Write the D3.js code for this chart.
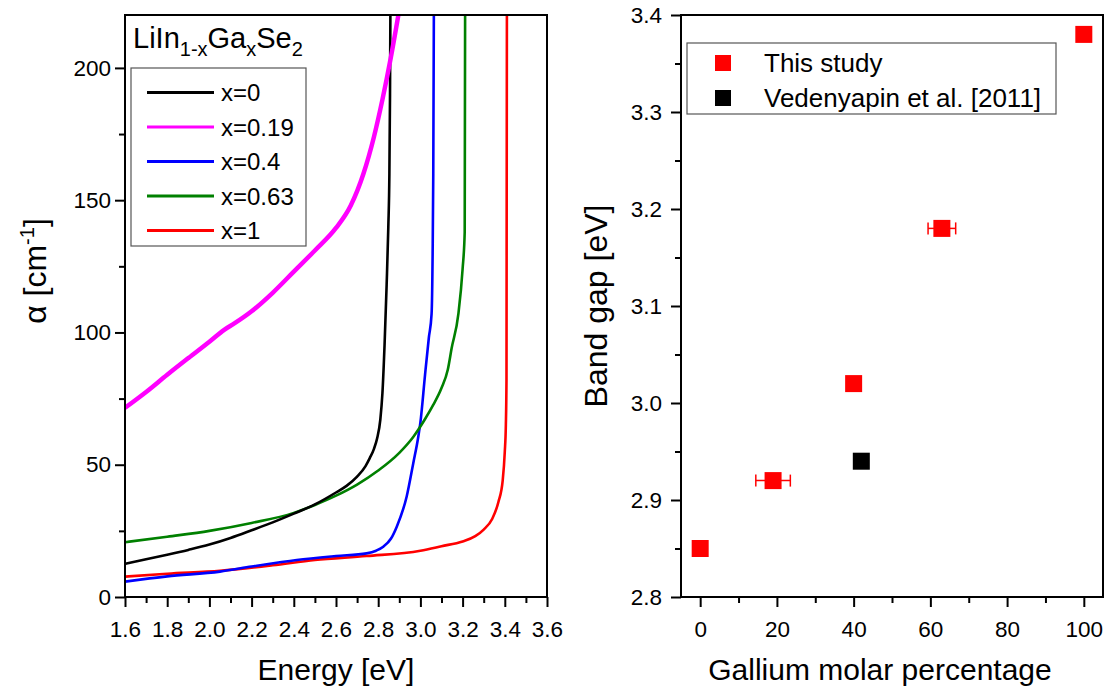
<!DOCTYPE html>
<html>
<head>
<meta charset="utf-8">
<script src="https://d3js.org/d3.v7.min.js"></script>
<style>
  body { margin: 0; background: #fff; }
  svg { font-family: Arial, "Liberation Sans", sans-serif; }
</style>
</head>
<body>
<script>
'use strict';

// ---- data ----
// left panel: absorption coefficient vs energy
const seriesNames = ['x=0', 'x=0.19', 'x=0.4', 'x=0.63', 'x=1'];
const seriesColors = ['#000000', '#ff00ff', '#0000ff', '#008000', '#ff0000'];

const energyX0 = [1.6, 1.7, 1.8, 1.9, 2.0, 2.1, 2.2, 2.3, 2.4, 2.5, 2.6, 2.65, 2.7, 2.74, 2.76, 2.78, 2.795, 2.81, 2.82, 2.83, 2.84, 2.848, 2.853, 2.856, 2.858];
const alphaX0  = [12.5, 14.3, 16, 17.8, 19.8, 22.3, 25.2, 28.2, 31.5, 35, 39.5, 42, 45.5, 49.5, 52.5, 56, 60, 67, 77, 95, 118, 140, 160, 190, 225];

const energyX019 = [1.6, 1.7, 1.8, 1.9, 2.0, 2.07, 2.12, 2.2, 2.3, 2.4, 2.5, 2.6, 2.67, 2.73, 2.78, 2.82, 2.86, 2.9];
const alphaX019  = [71.5, 77.5, 84, 90.3, 96.5, 101, 103.5, 108, 115, 123, 131, 139.5, 148, 160, 174, 188, 204, 222];

const energyX04 = [1.6, 1.8, 2.05, 2.2, 2.414, 2.6, 2.745, 2.79, 2.824, 2.86, 2.888, 2.935, 2.966, 2.99, 3.0, 3.022, 3.04, 3.053, 3.058, 3.061, 3.064];
const alphaX04  = [5.8, 7.8, 9.6, 11.5, 14, 15.5, 16.5, 17.5, 19, 22, 26.6, 38, 50.5, 60.6, 66, 84, 98, 107, 130, 160, 225];

const energyX063 = [1.6, 1.8, 2.0, 2.2, 2.4, 2.5, 2.6, 2.7, 2.8, 2.9, 2.966, 3.02, 3.06, 3.1, 3.13, 3.148, 3.18, 3.2, 3.21, 3.212];
const alphaX063  = [20.7, 22.8, 25, 28, 31.8, 34.8, 38.3, 42.5, 47.8, 54.5, 60.5, 67, 72.5, 79, 86, 94, 107, 124, 138, 225];

const energyX1 = [1.6, 1.8, 2.05, 2.3, 2.5, 2.745, 3.0, 3.1, 3.2, 3.26, 3.3, 3.34, 3.37, 3.39, 3.4, 3.405, 3.408, 3.41];
const alphaX1  = [7.7, 8.8, 9.9, 12, 14, 15.5, 17.5, 19.2, 21, 23, 25.5, 29.5, 36, 44, 55, 65, 82, 225];

const energyTicks = [1.6, 1.8, 2.0, 2.2, 2.4, 2.6, 2.8, 3.0, 3.2, 3.4, 3.6];
const alphaTicks = [0, 50, 100, 150, 200];

// right panel: band gap vs Ga content
const gaThis = [0, 19, 40, 63, 100];
const gapThis = [2.85, 2.92, 3.02, 3.18, 3.38];
const gaErrThis = [0, 4.5, 0, 3.6, 0];
const gaVed = [42];
const gapVed = [2.94];
const legendRight = ['This study', 'Vedenyapin et al. [2011]'];
const gaTicks = [0, 20, 40, 60, 80, 100];
const gapTicks = [2.8, 2.9, 3.0, 3.1, 3.2, 3.3, 3.4];

(function() {

  let svgContainer = '';

  window.onload = function() {
    svgContainer = d3.select('body')
      .append('svg')
      .attr('width', 1109)
      .attr('height', 689);

    makeLeftPanel();
    makeRightPanel();
  };

  // outward ticks, majors with labels, minors without
  function drawAxis(g, scale, orient, majors, minors, fmt, pad) {
    let axis = orient == 'bottom' ? d3.axisBottom(scale) : d3.axisLeft(scale);
    g.append('g')
      .call(axis.tickValues(minors).tickSize(6).tickFormat(''))
      .call(s => s.select('.domain').remove())
      .call(s => s.selectAll('line').attr('stroke-width', 2));

    let axis2 = orient == 'bottom' ? d3.axisBottom(scale) : d3.axisLeft(scale);
    g.append('g')
      .call(axis2.tickValues(majors).tickSize(10).tickPadding(pad).tickFormat(fmt))
      .call(s => s.select('.domain').remove())
      .call(s => s.selectAll('line').attr('stroke-width', 2))
      .call(s => s.selectAll('text')
        .attr('fill', '#000')
        .style('font-size', '22.5px'));
  }

  function makeLeftPanel() {
    let left = 125, right = 547, top = 15, bottom = 597;

    let xScale = d3.scaleLinear().domain([1.6, 3.6]).range([left, right]);
    let yScale = d3.scaleLinear().domain([0, 220]).range([bottom, top]);

    // x axis
    let minorE = d3.range(17, 36, 2).map(d => d / 10);
    let gx = svgContainer.append('g').attr('transform', `translate(0, ${bottom})`);
    drawAxis(gx, xScale, 'bottom', energyTicks, minorE, d3.format('.1f'), 14);

    // y axis
    let gy = svgContainer.append('g').attr('transform', `translate(${left}, 0)`);
    drawAxis(gy, yScale, 'left', alphaTicks, [25, 75, 125, 175], d3.format('d'), 4);

    // clip so the steep edges stop at the frame
    svgContainer.append('clipPath').attr('id', 'clipLeft')
      .append('rect')
      .attr('x', left).attr('y', top)
      .attr('width', right - left).attr('height', bottom - top);

    let lineGen = d3.line()
      .x(d => xScale(d[0]))
      .y(d => yScale(d[1]))
      .curve(d3.curveMonotoneX);

    let series = [
      d3.zip(energyX0, alphaX0),
      d3.zip(energyX019, alphaX019),
      d3.zip(energyX04, alphaX04),
      d3.zip(energyX063, alphaX063),
      d3.zip(energyX1, alphaX1)
    ];

    // draw x=1 first, magenta last as in the picture
    let order = [4, 2, 3, 0, 1];
    svgContainer.append('g')
      .attr('clip-path', 'url(#clipLeft)')
      .selectAll('path')
      .data(order)
      .enter()
      .append('path')
        .attr('d', i => lineGen(series[i]))
        .attr('fill', 'none')
        .attr('stroke', i => seriesColors[i])
        .attr('stroke-width', i => i == 1 ? 4.5 : 2.6)
        .attr('stroke-linejoin', 'round');

    // frame
    svgContainer.append('rect')
      .attr('x', left).attr('y', top)
      .attr('width', right - left).attr('height', bottom - top)
      .attr('fill', 'none').attr('stroke', '#000').attr('stroke-width', 2);

    // legend title
    let title = svgContainer.append('text')
      .attr('x', 133).attr('y', 48)
      .style('font-size', '29px');
    title.append('tspan').text('LiIn');
    title.append('tspan').text('1-x').attr('dy', 8).style('font-size', '20px');
    title.append('tspan').text('Ga').attr('dy', -8);
    title.append('tspan').text('x').attr('dy', 8).style('font-size', '20px');
    title.append('tspan').text('Se').attr('dy', -8);
    title.append('tspan').text('2').attr('dy', 8).style('font-size', '20px');

    // legend box
    svgContainer.append('rect')
      .attr('x', 131).attr('y', 68)
      .attr('width', 175).attr('height', 178)
      .attr('fill', '#fff').attr('stroke', '#555').attr('stroke-width', 1.2);

    let legend = svgContainer.selectAll('.legLeft')
      .data(seriesNames)
      .enter()
      .append('g')
        .attr('class', 'legLeft')
        .attr('transform', (d, i) => `translate(0, ${92.5 + i * 34.5})`);

    legend.append('line')
      .attr('x1', 147).attr('x2', 214)
      .attr('stroke', (d, i) => seriesColors[i])
      .attr('stroke-width', 3);

    legend.append('text')
      .attr('x', 221).attr('y', 8.5)
      .style('font-size', '24px')
      .text(d => d);

    // axis titles
    svgContainer.append('text')
      .attr('x', (left + right) / 2).attr('y', 680)
      .attr('text-anchor', 'middle')
      .style('font-size', '30px')
      .text('Energy [eV]');

    let ylab = svgContainer.append('text')
      .attr('transform', 'translate(46, 271)rotate(-90)')
      .attr('text-anchor', 'middle')
      .style('font-size', '32px');
    ylab.append('tspan').text('α [cm');
    ylab.append('tspan').text('-1').attr('dy', -12).style('font-size', '20px');
    ylab.append('tspan').text(']').attr('dy', 12);
  }

  function makeRightPanel() {
    let left = 681, right = 1103, top = 15, bottom = 597;

    let xScale = d3.scaleLinear().domain([-5, 105]).range([left, right]);
    let yScale = d3.scaleLinear().domain([2.8, 3.4]).range([bottom, top]);

    let gx = svgContainer.append('g').attr('transform', `translate(0, ${bottom})`);
    drawAxis(gx, xScale, 'bottom', gaTicks, [10, 30, 50, 70, 90], d3.format('d'), 14);

    let gy = svgContainer.append('g').attr('transform', `translate(${left}, 0)`);
    drawAxis(gy, yScale, 'left', gapTicks, [2.85, 2.95, 3.05, 3.15, 3.25, 3.35], d3.format('.1f'), 9);

    svgContainer.append('rect')
      .attr('x', left).attr('y', top)
      .attr('width', right - left).attr('height', bottom - top)
      .attr('fill', 'none').attr('stroke', '#000').attr('stroke-width', 2);

    let thisData = gaThis.map((d, i) => ({ x: d, y: gapThis[i], err: gaErrThis[i] }));
    let vedData = gaVed.map((d, i) => ({ x: d, y: gapVed[i] }));
    let size = 17;

    // error bars
    let errs = svgContainer.selectAll('.err')
      .data(thisData.filter(d => d.err > 0))
      .enter()
      .append('g')
        .attr('class', 'err')
        .attr('stroke', '#ff0000')
        .attr('stroke-width', 1.5);
    errs.append('line')
      .attr('x1', d => xScale(d.x - d.err)).attr('x2', d => xScale(d.x + d.err))
      .attr('y1', d => yScale(d.y)).attr('y2', d => yScale(d.y));
    errs.append('line')
      .attr('x1', d => xScale(d.x - d.err)).attr('x2', d => xScale(d.x - d.err))
      .attr('y1', d => yScale(d.y) - 6).attr('y2', d => yScale(d.y) + 6);
    errs.append('line')
      .attr('x1', d => xScale(d.x + d.err)).attr('x2', d => xScale(d.x + d.err))
      .attr('y1', d => yScale(d.y) - 6).attr('y2', d => yScale(d.y) + 6);

    svgContainer.selectAll('.ptThis')
      .data(thisData)
      .enter()
      .append('rect')
        .attr('class', 'ptThis')
        .attr('x', d => xScale(d.x) - size / 2)
        .attr('y', d => yScale(d.y) - size / 2)
        .attr('width', size).attr('height', size)
        .attr('fill', '#ff0000');

    svgContainer.selectAll('.ptVed')
      .data(vedData)
      .enter()
      .append('rect')
        .attr('class', 'ptVed')
        .attr('x', d => xScale(d.x) - size / 2)
        .attr('y', d => yScale(d.y) - size / 2)
        .attr('width', size).attr('height', size)
        .attr('fill', '#000');

    // legend
    svgContainer.append('rect')
      .attr('x', 687).attr('y', 43)
      .attr('width', 369).attr('height', 71)
      .attr('fill', '#fff').attr('stroke', '#555').attr('stroke-width', 1.2);

    let legend = svgContainer.selectAll('.legRight')
      .data(legendRight)
      .enter()
      .append('g')
        .attr('class', 'legRight')
        .attr('transform', (d, i) => `translate(0, ${63 + i * 35})`);
    legend.append('rect')
      .attr('x', 715).attr('y', -8)
      .attr('width', 16).attr('height', 16)
      .attr('fill', (d, i) => i == 0 ? '#ff0000' : '#000');
    legend.append('text')
      .attr('x', 764).attr('y', 9)
      .style('font-size', '26px')
      .text(d => d);

    // axis titles
    svgContainer.append('text')
      .attr('x', 880).attr('y', 680)
      .attr('text-anchor', 'middle')
      .style('font-size', '30px')
      .text('Gallium molar percentage');

    svgContainer.append('text')
      .attr('transform', 'translate(607, 306)rotate(-90)')
      .attr('text-anchor', 'middle')
      .style('font-size', '32px')
      .text('Band gap [eV]');
  }

})();
</script>
</body>
</html>
